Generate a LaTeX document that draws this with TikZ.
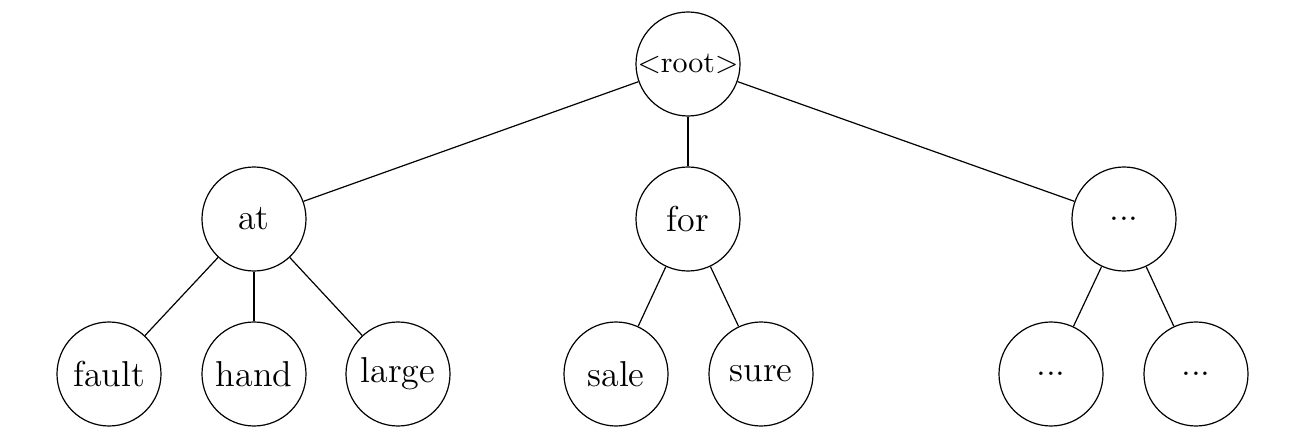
\documentclass[tikz,border=0pt]{standalone}
\begin{document}
\begin{tikzpicture}[x=0.33333pt,y=-0.33333pt,
  tnode/.style={draw,circle,line width=0.4pt,minimum size=34.67pt,inner sep=0pt,font=\fontsize{12}{14}\selectfont},
  rootnode/.style={tnode,font=\fontsize{10}{12}\selectfont},
  edge/.style={draw,line width=0.4pt}]
\useasboundingbox (0,0) rectangle (1292,438);
\node[rootnode] (root) at (688,64) {$<$root$>$};
\node[tnode] (at) at (254,219) {at};
\node[tnode] (for) at (688,219) {for};
\node[tnode] (dd) at (1124,219) {...};
\node[tnode] (fault) at (109,374) {fault};
\node[tnode] (hand) at (254,374) {hand};
\node[tnode] (large) at (398,374) {large};
\node[tnode] (sale) at (616,374) {sale};
\node[tnode] (sure) at (761,374) {sure};
\node[tnode] (d1) at (1051,374) {...};
\node[tnode] (d2) at (1196,374) {...};
\draw[edge] (root) -- (at);
\draw[edge] (root) -- (for);
\draw[edge] (root) -- (dd);
\draw[edge] (at) -- (fault);
\draw[edge] (at) -- (hand);
\draw[edge] (at) -- (large);
\draw[edge] (for) -- (sale);
\draw[edge] (for) -- (sure);
\draw[edge] (dd) -- (d1);
\draw[edge] (dd) -- (d2);
\end{tikzpicture}
\end{document}
